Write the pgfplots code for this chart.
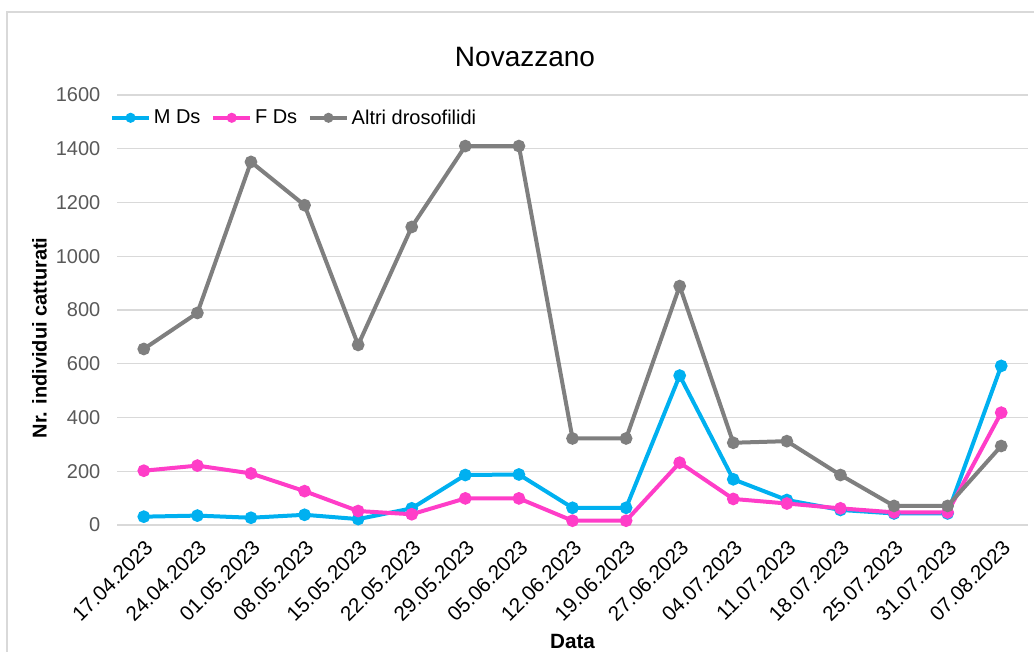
\documentclass[border=0pt]{standalone}
\usepackage{pgfplots}
\pgfplotsset{compat=1.18}
\usepackage{fontspec}
\setmainfont{Liberation Sans}

\definecolor{mds}{HTML}{00B0F0}
\definecolor{fds}{HTML}{FF3DC8}
\definecolor{altri}{HTML}{7F7F7F}
\definecolor{gridc}{HTML}{D9D9D9}
\definecolor{ticktxt}{HTML}{595959}

\begin{document}
\begin{tikzpicture}
\useasboundingbox (0pt,0pt) rectangle (775.5pt,488.25pt);
% outer chart frame
\draw[gridc, line width=1.2pt] (5.25pt,-15pt) -- (5.25pt,479.25pt) -- (795pt,479.25pt);
\node[font=\fontsize{21}{24}\selectfont] at (393.75pt,445.5pt) {Novazzano};
\begin{axis}[
    at={(87.75pt,94.5pt)}, anchor=south west,
    scale only axis, width=683.25pt, height=322.5pt,
    xmin=-0.5, xmax=16.5, ymin=0, ymax=1600,
    ytick={0,200,...,1600},
    xtick={0,...,16},
    xticklabels={17.04.2023,24.04.2023,01.05.2023,08.05.2023,15.05.2023,22.05.2023,29.05.2023,05.06.2023,12.06.2023,19.06.2023,27.06.2023,04.07.2023,11.07.2023,18.07.2023,25.07.2023,31.07.2023,07.08.2023},
    /pgf/number format/assume math mode=true,
    /pgf/number format/1000 sep={},
    axis line style={draw=none},
    major tick length=0pt,
    ymajorgrids, grid style={gridc, line width=1.1pt},
    yticklabel style={font=\fontsize{15}{18}\selectfont, text=ticktxt, xshift=-9pt},
    xticklabel style={font=\fontsize{15.5}{18}\selectfont, rotate=45, anchor=east, yshift=-13pt, xshift=-4pt},
    ylabel={Nr. individui catturati},
    ylabel style={font=\fontsize{15}{18}\selectfont\bfseries, at={(axis description cs:-0.085,0.435)}, anchor=center},
    xlabel={Data},
    xlabel style={font=\fontsize{15.5}{18}\selectfont\bfseries, at={(axis description cs:0.5,-0.27)}, anchor=center},
    legend style={at={(axis description cs:-0.008,0.947)}, anchor=west, draw=none, fill=none,
        font=\fontsize{15}{18}\selectfont, inner sep=0pt,
        /tikz/every even column/.append style={column sep=6pt}},
    legend columns=-1,
    legend image code/.code={\draw[#1, mark repeat=2, mark phase=2, mark size=2.2pt] plot coordinates {(0cm,0cm) (0.49cm,0cm) (0.98cm,0cm)};},
    every axis plot/.append style={line width=3pt, mark=*, mark size=3.2pt},
]
\addplot[mds, mark options={fill=mds, draw=mds}] coordinates {
(0,31) (1,35) (2,27) (3,38) (4,22) (5,62) (6,186) (7,188) (8,64) (9,64)
(10,556) (11,170) (12,93) (13,56) (14,43) (15,43) (16,592)};
\addlegendentry{M Ds}
\addplot[fds, mark options={fill=fds, draw=fds}] coordinates {
(0,202) (1,221) (2,192) (3,126) (4,52) (5,40) (6,99) (7,99) (8,16) (9,16)
(10,232) (11,97) (12,80) (13,62) (14,47) (15,47) (16,418)};
\addlegendentry{F Ds}
\addplot[altri, mark options={fill=altri, draw=altri}] coordinates {
(0,655) (1,789) (2,1351) (3,1190) (4,670) (5,1109) (6,1410) (7,1410) (8,322) (9,322)
(10,889) (11,306) (12,312) (13,186) (14,71) (15,71) (16,294)};
\addlegendentry{Altri drosofilidi}
\end{axis}
\end{tikzpicture}
\end{document}
